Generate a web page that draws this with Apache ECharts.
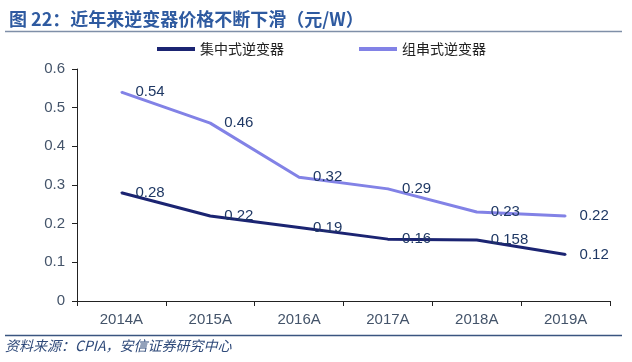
<!DOCTYPE html>
<html>
<head>
<meta charset="utf-8">
<script src="https://cdn.jsdelivr.net/npm/echarts@6/dist/echarts.min.js"></script>
<style>html,body{margin:0;padding:0;background:#fff;}#main{width:632px;height:362px;}</style>
</head>
<body>
<div id="main"></div>
<script>
const categories = ['2014A', '2015A', '2016A', '2017A', '2018A', '2019A'];
const centralValues = [0.28, 0.22, 0.19, 0.16, 0.158, 0.12];
const stringValues = [0.54, 0.46, 0.32, 0.29, 0.23, 0.22];
const seriesNames = ['集中式逆变器', '组串式逆变器'];
const yTicks = [0, 0.1, 0.2, 0.3, 0.4, 0.5, 0.6];
const titleText = '图 22：近年来逆变器价格不断下滑（元/W）';
const sourceText = '资料来源：CPIA，安信证券研究中心';

const chart = echarts.init(document.getElementById('main'), null, {renderer: 'canvas'});
const labelStyle = {
  show: true, position: 'right', distance: 13,
  color: '#1F3864', fontFamily: 'Arial, "Liberation Sans"', fontSize: 15
};
chart.setOption({
  animation: false,
  backgroundColor: '#ffffff',
  textStyle: {fontFamily: 'Arial, "Liberation Sans", "Noto Sans CJK SC"'},
  title: {
    text: titleText, left: 4, top: 5,
    textStyle: {color: '#2E5AA0', fontSize: 18, fontWeight: 'bold', fontFamily: '"Noto Sans CJK SC", Arial'}
  },
  legend: {
    left: 152, top: 37, itemGap: 75, itemWidth: 38, itemHeight: 4, icon: 'rect',
    textStyle: {color: '#222', fontSize: 14, fontFamily: '"Noto Sans CJK SC"'},
    data: seriesNames
  },
  grid: {left: 77, right: 22, top: 69, bottom: 61, containLabel: false},
  xAxis: {
    type: 'category', data: categories, boundaryGap: true,
    axisLine: {lineStyle: {color: '#222', width: 1}},
    axisTick: {show: true, inside: false, length: 5, interval: 0, lineStyle: {color: '#222'}},
    axisLabel: {color: '#44546A', fontSize: 15, margin: 11}
  },
  yAxis: {
    type: 'value', min: yTicks[0], max: yTicks[yTicks.length - 1], interval: 0.1,
    splitLine: {show: false},
    axisLine: {show: true, lineStyle: {color: '#222', width: 1}},
    axisTick: {show: true, inside: false, length: 5, lineStyle: {color: '#222'}},
    axisLabel: {color: '#44546A', fontSize: 15, margin: 12, formatter: v => String(+v.toFixed(1))}
  },
  series: [
    {
      name: seriesNames[0], type: 'line', data: centralValues,
      symbol: 'circle', symbolSize: 2, showSymbol: true,
      lineStyle: {color: '#1B2472', width: 3}, itemStyle: {color: '#1B2472'},
      label: labelStyle, z: 3
    },
    {
      name: seriesNames[1], type: 'line', data: stringValues,
      symbol: 'circle', symbolSize: 2, showSymbol: true,
      lineStyle: {color: '#8282E6', width: 3}, itemStyle: {color: '#8282E6'},
      label: labelStyle, z: 2
    }
  ],
  graphic: [
    {type: 'line', shape: {x1: 5, y1: 31.5, x2: 622, y2: 31.5}, style: {stroke: '#7F8FA8', lineWidth: 1.5}},
    {type: 'line', shape: {x1: 5, y1: 335.5, x2: 622, y2: 335.5}, style: {stroke: '#3A5580', lineWidth: 1.5}},
    {type: 'text', left: 5, top: 339, style: {text: sourceText, fill: '#2F4A7A', fontSize: 14, fontStyle: 'italic', fontFamily: '"Noto Sans CJK SC", Arial'}}
  ]
});
</script>
</body>
</html>
